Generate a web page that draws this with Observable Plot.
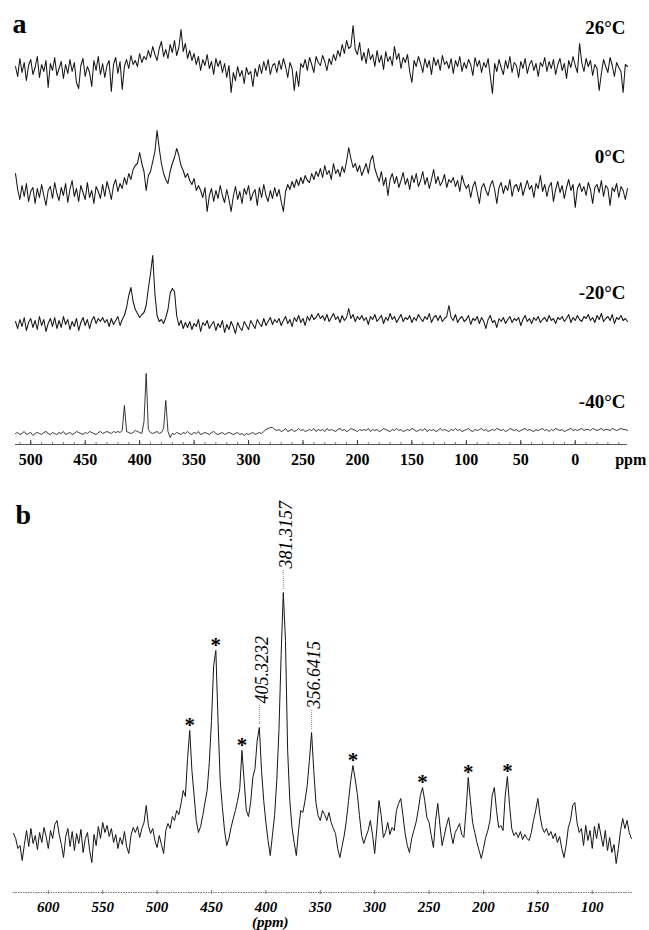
<!DOCTYPE html>
<html><head><meta charset="utf-8">
<script src="https://cdn.jsdelivr.net/npm/d3@7"></script>
<script src="https://cdn.jsdelivr.net/npm/@observablehq/plot@0.6"></script>
<style>html,body{margin:0;padding:0;background:#fff;} svg{display:block;}</style>
</head><body><div id="chart"></div>
<script>
// ---------- Panel a data (intensity relative to each trace baseline) ----------
const tempLabels = ["26°C", "0°C", "-20°C", "-40°C"];
const ppmStartA = 514, ppmStepA = -2;   // sampling grid of panel a traces
const trace26 = [
  2,-8,10,-4,6,-12,3,9,-6,1,12,-9,4,-3,8,-19,5,-2,11,-7,
  0,7,-10,4,-5,9,-3,6,-14,-20,3,10,-8,2,-4,-18,8,-2,12,-6,
  5,-9,3,8,-23,4,11,-5,7,-21,2,9,0,13,4,8,2,15,6,12,
  9,18,11,22,14,8,20,27,12,19,10,24,16,28,13,21,39,17,25,10,
  18,8,15,4,12,-2,9,3,14,0,7,-6,10,2,8,-4,5,-9,3,-24,
  -4,-12,2,-8,-2,-15,1,-6,-3,-18,0,-8,4,-5,7,-2,9,-6,3,5,
  -4,8,-1,10,2,-9,6,0,-22,-3,-18,5,1,9,-2,11,4,-4,12,6,
  3,13,7,-2,10,4,14,8,18,12,24,15,28,20,22,43,19,14,26,8,
  16,5,20,9,14,2,18,6,13,-1,17,7,12,3,22,9,15,0,11,6,
  14,-3,-14,8,2,12,5,-4,10,1,8,-6,11,3,9,-2,13,4,7,0,
  10,-5,8,2,12,-3,6,0,9,4,-7,11,2,8,-4,6,1,10,-8,-25,
  5,-3,9,1,-6,8,0,12,-4,6,3,-9,7,0,10,-5,4,8,-2,5,
  -8,6,2,11,-3,7,0,9,-6,4,10,-2,5,-10,8,1,12,3,-4,25,
  6,-3,10,2,8,-7,4,0,-22,-5,9,2,-4,11,3,-8,6,1,-3,-24,
  4,2
];
const trace0 = [
  20,4,-6,8,-3,10,-8,2,6,-10,5,-4,9,-2,-12,3,7,-5,11,0,
  -7,6,-2,10,-9,4,13,-3,5,-8,8,1,-6,11,-4,3,-10,7,2,-5,
  9,-3,12,4,-6,8,14,2,10,5,16,9,20,14,24,28,30,41,30,22,
  3,18,22,32,42,63,45,30,20,14,10,22,30,36,45,38,28,23,16,20,
  13,9,15,3,8,3,-4,6,-18,-2,5,-8,3,-5,8,-2,-9,4,-6,-18,
  -3,7,-6,2,-10,5,-1,8,-7,0,4,-12,6,-4,9,-2,-8,3,-5,6,
  -3,4,-8,-18,2,9,4,12,6,14,8,16,10,18,13,11,20,14,22,17,
  25,16,28,19,23,14,30,20,24,17,27,21,32,46,35,26,30,22,28,18,
  24,30,20,33,38,25,18,12,22,8,16,-2,14,20,10,17,6,13,21,9,
  15,4,18,11,20,7,13,22,9,16,5,14,24,10,17,8,12,19,6,14,
  11,16,7,13,2,18,10,5,9,-4,7,12,1,-10,6,10,3,-2,8,13,
  4,-10,6,11,0,8,3,14,-3,7,9,2,11,-2,6,13,4,8,-4,10,
  5,18,2,9,-3,7,11,-8,4,12,1,8,-5,6,14,3,9,-14,5,10,
  2,7,-2,11,4,-10,6,9,1,13,-3,8,5,-12,6,2,10,-4,7,3,
  -6,5
];
const traceM20 = [
  2,-5,4,-3,6,-7,1,5,-4,3,-6,7,-2,4,-8,0,5,-3,6,-5,
  3,-4,7,-1,4,-6,2,-3,5,-7,1,6,-2,4,-5,3,7,0,5,2,
  6,1,4,-3,5,-1,3,7,-2,4,8,16,28,36,22,14,10,6,9,11,
  18,35,50,68,30,8,2,4,0,6,14,30,35,32,8,-2,3,-5,1,-4,
  2,-6,0,-3,4,-8,1,-2,3,-5,-1,2,-7,0,-4,3,-9,-1,-6,2,
  -3,-10,1,-4,-7,2,-2,-6,3,-1,-5,4,0,-3,5,-2,2,6,-1,4,
  1,5,-2,3,7,0,4,-3,6,2,8,1,5,-2,7,3,9,4,6,10,
  5,8,3,9,2,6,10,4,7,1,8,3,6,15,5,9,2,7,4,8,
  3,6,-1,7,4,9,2,5,8,0,6,3,10,4,7,1,5,9,2,6,
  4,8,1,6,3,9,5,2,7,4,10,1,6,8,3,8,2,5,7,18,
  6,3,9,1,5,7,2,4,8,-1,5,3,7,0,6,2,-5,4,8,1,
  3,-4,5,2,6,0,4,7,1,5,3,6,-2,4,8,2,5,0,6,3,
  7,1,4,6,2,8,3,5,0,6,4,7,2,5,9,1,6,3,8,4,
  2,7,5,9,3,6,1,8,4,10,2,5,7,3,9,0,6,4,8,3,
  5,2
];
const traceM40 = [
  0,1,-1,0,2,-1,0,1,-2,0,1,0,-1,1,2,0,-1,1,0,-1,
  1,0,2,-1,0,1,-1,0,2,1,0,-1,1,0,2,1,0,-1,1,2,
  0,1,2,1,0,2,1,2,1,3,28,2,1,0,1,3,2,1,0,12,
  60,4,1,0,1,2,0,1,5,33,2,-4,0,-1,1,0,-1,1,0,2,
  0,-1,1,0,2,-1,0,1,0,-1,1,2,0,-1,0,1,-1,0,1,0,
  -1,0,1,-1,0,-2,0,-1,0,1,-1,0,1,0,2,4,5,6,6,4,
  3,4,2,3,5,2,3,4,2,3,5,3,4,2,3,4,3,5,2,4,
  3,4,2,5,3,4,3,2,4,5,3,4,2,3,5,4,3,2,4,3,
  4,3,5,2,4,3,4,2,3,5,4,3,2,4,3,5,3,4,2,3,
  4,3,5,4,2,3,4,3,5,2,4,3,4,2,3,5,3,4,3,2,
  4,3,5,3,4,2,3,4,5,3,2,4,3,4,5,3,4,2,3,4,
  3,5,4,3,4,2,3,5,4,3,4,2,3,4,5,3,4,3,2,4,
  3,4,5,3,4,2,4,3,5,4,3,4,2,3,4,5,3,4,3,4,
  5,3,4,4,3,5,4,3,4,5,3,4,4,3,5,4,3,4,5,4,
  4,3
];
const tickValuesA = [500, 450, 400, 350, 300, 250, 200, 150, 100, 50, 0];
const unitLabelA = "ppm";

// ---------- Panel b data ----------
const ppmStartB = 632, ppmStepB = -2;   // sampling grid of panel b trace
const traceB = [
  7,2,-8,-5,-20,-4,10,-6,12,-3,5,-9,8,-2,13,4,-8,10,2,16,
  20,6,-4,-17,4,12,-6,9,-10,7,-3,11,-12,2,8,-10,-22,6,-5,14,
  2,18,8,15,4,12,-2,6,-8,3,-4,9,-6,-13,5,13,8,14,3,12,
  18,35,15,7,12,0,-7,5,-4,-13,10,17,12,24,20,30,26,37,50,44,
  82,110,70,45,20,8,14,25,38,50,78,120,175,190,120,60,33,10,-5,2,
  13,22,30,40,52,90,60,30,24,38,63,72,100,113,70,40,18,0,-15,5,
  25,60,110,185,248,200,90,40,13,-2,-15,10,30,28,40,55,80,108,70,38,
  25,20,30,26,20,28,18,12,7,-8,-17,-6,5,20,40,60,75,62,47,25,
  5,-3,4,10,20,6,-13,12,40,25,3,8,18,6,13,10,30,37,42,25,
  7,-5,-12,2,10,18,30,45,53,40,23,18,5,-7,20,37,15,-5,5,15,
  23,8,-3,8,12,17,6,3,30,63,40,18,8,-2,-10,-18,-8,3,10,20,
  45,53,30,13,15,10,45,64,35,12,5,8,3,9,1,6,2,0,8,20,
  30,42,25,13,8,12,5,9,2,7,-2,4,-8,-17,-5,13,20,35,38,18,
  8,12,-5,15,0,10,-8,14,2,17,5,-6,10,-10,3,-12,-4,-23,-8,10,
  22,12,20,8,2
];
const tickValuesB = [600, 550, 500, 450, 400, 350, 300, 250, 200, 150, 100];
const unitLabelB = "(ppm)";
const peakPpm = [405.3232, 381.3157, 356.6415];
const peakLabels = ["405.3232", "381.3157", "356.6415"];
const starPpm = [471, 447, 422, 320, 256, 214, 179];

// ---------- styling / layout ----------
const serif = "'Liberation Serif','Times New Roman','DejaVu Serif',serif";
const ink = "#151515";
const offsetsA = [376, 251, 121, 11];        // vertical stacking of panel a traces
const labelBaseA = [411, 282, 146, 37];      // baselines of temperature labels
const tracesA = [trace26, trace0, traceM20, traceM40];
const minorA = d3.range(510, -50, -10);
const minorB = d3.range(630, 60, -10);

const plotA = Plot.plot({
  width: 649, height: 470,
  marginLeft: 15, marginRight: 22, marginTop: 0, marginBottom: 26,
  x: {domain: [514, -48], axis: null},
  y: {domain: [0, 444], axis: null},
  marks: [
    ...tracesA.map((t, k) => Plot.line(t, {
      x: (d, i) => ppmStartA + i * ppmStepA,
      y: d => offsetsA[k] + d,
      stroke: ink, strokeWidth: k === 3 ? 0.85 : 1.05
    })),
    Plot.ruleY([0], {stroke: "#444", strokeWidth: 0.9}),
    Plot.ruleX(minorA, {x: d => d, y1: 0, y2: 2, stroke: "#444", strokeWidth: 0.7}),
    Plot.ruleX(tickValuesA, {x: d => d, y1: 0, y2: 4, stroke: "#222", strokeWidth: 0.9}),
    Plot.text(tickValuesA, {x: d => d, y: 0, dy: 20, text: d => String(d), lineAnchor: "bottom",
      fontFamily: serif, fontWeight: "bold", fontSize: 16, fill: "#000"}),
    Plot.text([unitLabelA], {x: -51, y: 0, dy: 20, text: d => d, lineAnchor: "bottom",
      fontFamily: serif, fontWeight: "bold", fontSize: 16, fill: "#000"}),
    Plot.text(tempLabels, {x: -48, y: (d, i) => labelBaseA[i], text: d => d, textAnchor: "end",
      lineAnchor: "bottom", dx: -2, fontFamily: serif, fontWeight: "bold", fontSize: 19, fill: "#000"}),
    Plot.text(["a"], {frameAnchor: "top-left", text: d => d, textAnchor: "start", lineAnchor: "bottom",
      dx: -3, dy: 32, fontFamily: serif, fontWeight: "bold", fontSize: 28, fill: "#000"})
  ]
});

// peak tops from the trace itself
const xB = i => ppmStartB + i * ppmStepB;
function localMax(p) {
  let best = {v: -Infinity, ppm: p};
  traceB.forEach((v, i) => {
    const q = xB(i);
    if (Math.abs(q - p) <= 3 && v > best.v) best = {v, ppm: q};
  });
  return best;
}
const peaks = peakPpm.map((p, k) => ({...localMax(p), label: peakLabels[k]}));
const stars = starPpm.map(p => localMax(p));
const gap = 24;

const plotB = Plot.plot({
  width: 649, height: 460,
  marginLeft: 13, marginRight: 17, marginTop: 0, marginBottom: 38,
  x: {domain: [632, 63], axis: null},
  y: {domain: [-52, 370], axis: null},
  marks: [
    Plot.ruleY([-52], {stroke: "#777", strokeWidth: 1, strokeDasharray: "1.5,1"}),
    Plot.ruleX(minorB, {x: d => d, y1: -52, y2: -53.5, stroke: "#888", strokeWidth: 0.7}),
    Plot.ruleX(tickValuesB, {x: d => d, y1: -50, y2: -54, stroke: "#666", strokeWidth: 0.8}),
    Plot.line(traceB, {x: (d, i) => xB(i), y: d => d, stroke: ink, strokeWidth: 1}),
    Plot.ruleX(peaks, {x: "ppm", y1: d => d.v + 3, y2: d => d.v + gap - 2,
      stroke: "#777", strokeWidth: 0.8, strokeDasharray: "1,1"}),
    Plot.text(peaks, {x: "ppm", y: d => d.v + gap, text: "label", rotate: -90, dx: 3,
      textAnchor: "start", lineAnchor: "middle", fontFamily: serif, fontStyle: "italic",
      fontSize: 18, fill: "#000"}),
    Plot.text(stars, {x: "ppm", y: "v", text: () => "*", dy: 1, lineAnchor: "bottom",
      fontFamily: serif, fontWeight: "bold", fontSize: 21, fill: "#000"}),
    Plot.text(tickValuesB, {x: d => d, y: -52, dy: 19, text: d => String(d), lineAnchor: "bottom",
      fontFamily: serif, fontWeight: "bold", fontStyle: "italic", fontSize: 15, fill: "#000"}),
    Plot.text([unitLabelB], {x: 396, y: -52, dy: 34, text: d => d, lineAnchor: "bottom",
      fontFamily: serif, fontWeight: "bold", fontStyle: "italic", fontSize: 15, fill: "#000"}),
    Plot.text(["b"], {frameAnchor: "top-left", text: d => d, textAnchor: "start", lineAnchor: "bottom",
      dx: 2, dy: 53, fontFamily: serif, fontWeight: "bold", fontSize: 28, fill: "#000"})
  ]
});

const host = document.getElementById("chart");
host.appendChild(plotA);
host.appendChild(plotB);
</script>
</body></html>
